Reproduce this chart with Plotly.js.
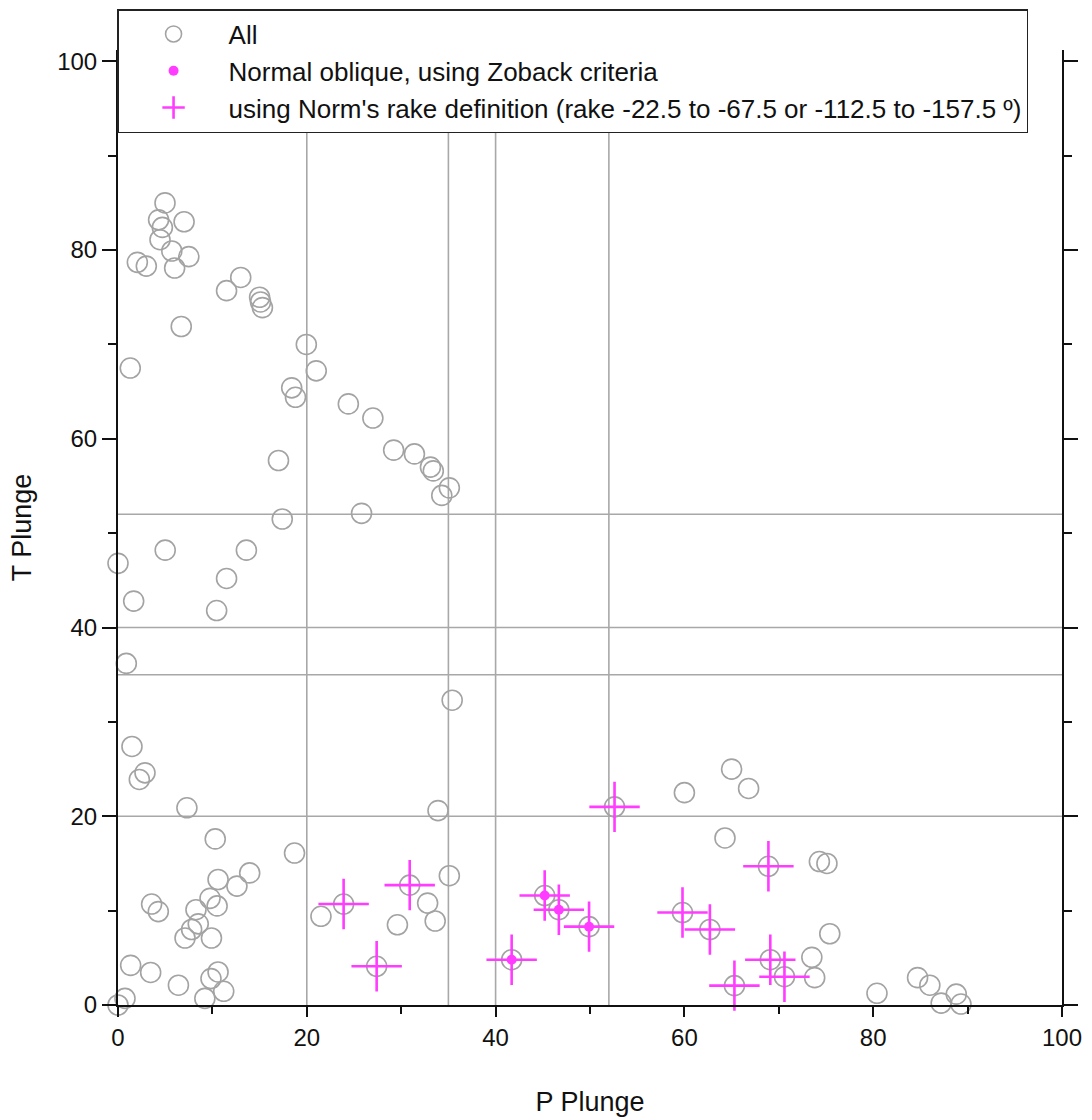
<!DOCTYPE html>
<html>
<head>
<meta charset="utf-8">
<script src="https://cdn.plot.ly/plotly-3.0.1.min.js"></script>
<style>html,body{margin:0;padding:0;background:#fff;}#chart{width:1092px;height:1120px;}</style>
</head>
<body>
<div id="chart"></div>
<script>
// All events: P plunge / T plunge
const allP = [4.98,4.3,7.0,4.7,4.45,5.7,7.5,2.05,3.0,6.0,13.0,11.5,15.0,15.1,15.3,6.7,19.95,1.3,21.0,18.4,18.8,24.4,27.0,17.0,29.2,31.4,33.1,33.4,35.1,34.3,
  17.4,25.8,5.0,13.6,0,11.5,1.66,10.45,0.88,35.4,1.48,2.86,2.26,7.3,33.9,10.3,18.7,
  13.95,10.6,35.1,12.6,30.9,3.56,4.27,9.75,10.5,23.9,32.8,8.26,21.5,8.5,7.8,7.1,9.9,29.6,33.6,27.4,1.34,3.46,10.6,9.85,6.4,11.2,9.2,0.74,0,
  52.6,60.0,65.0,66.8,64.3,68.9,74.3,75.1,45.2,46.7,49.9,41.7,59.8,62.7,75.4,69.1,73.5,70.6,73.8,65.3,80.4,84.7,86.0,87.2,88.8,89.3];
const allT = [85.0,83.2,83.0,82.4,81.1,79.9,79.3,78.7,78.3,78.1,77.1,75.7,75.0,74.5,73.9,71.9,70.0,67.5,67.2,65.4,64.4,63.7,62.2,57.7,58.8,58.4,57.0,56.6,54.8,54.0,
  51.5,52.1,48.2,48.2,46.8,45.2,42.8,41.8,36.2,32.3,27.4,24.6,23.9,20.9,20.6,17.6,16.1,
  14.0,13.3,13.7,12.6,12.7,10.7,9.9,11.3,10.5,10.7,10.8,10.1,9.4,8.6,8.0,7.1,7.1,8.5,8.9,4.1,4.2,3.45,3.5,2.8,2.1,1.45,0.7,0.7,0,
  21.0,22.5,25.0,22.95,17.7,14.7,15.2,15.0,11.6,10.1,8.3,4.8,9.8,8.0,7.55,4.8,5.05,3.0,2.9,2.05,1.24,2.9,2.1,0.2,1.15,0.1];

// Normal oblique, Zoback criteria
const zobackP = [41.7,45.2,46.7,49.9];
const zobackT = [4.8,11.6,10.1,8.3];

// Norm's rake definition
const normP = [23.9,27.4,30.9,41.7,45.2,46.7,49.9,52.6,59.8,62.7,65.3,68.9,69.1,70.6];
const normT = [10.7,4.1,12.7,4.8,11.6,10.1,8.3,21.0,9.8,8.0,2.05,14.7,4.8,3.0];

// Reference lines
const refP = [20,35,40,52];
const refT = [20,35,40,52];

const legendNames = ["All","Normal oblique, using Zoback criteria","using Norm's rake definition (rake -22.5 to -67.5 or -112.5 to -157.5 º)"];

const FONT = "Liberation Sans, Arial, sans-serif";
const magenta = "#ff3cff";

const traces = [
  {x: allP, y: allT, type: "scatter", mode: "markers", name: legendNames[0], cliponaxis: false,
   marker: {symbol: "circle-open", size: 20, color: "#a3a3a3", line: {width: 1.6, color: "#a3a3a3"}}},
  {x: zobackP, y: zobackT, type: "scatter", mode: "markers", name: legendNames[1], cliponaxis: false,
   marker: {symbol: "circle", size: 10, color: magenta}},
  {x: normP, y: normT, type: "scatter", mode: "markers", name: legendNames[2], cliponaxis: false,
   marker: {symbol: "cross-thin-open", size: 36, color: magenta, line: {width: 2.6, color: magenta}}}
];

const shapes = [];
refP.forEach(v => shapes.push({type: "line", layer: "below", xref: "x", yref: "y", x0: v, x1: v, y0: 0, y1: 101.2, line: {color: "#a8a8a8", width: 1.6}}));
refT.forEach(v => shapes.push({type: "line", layer: "below", xref: "x", yref: "y", x0: 0, x1: 100, y0: v, y1: v, line: {color: "#a8a8a8", width: 1.6}}));

const layout = {
  width: 1092, height: 1120,
  margin: {l: 118, r: 30, t: 50, b: 115, autoexpand: false},
  paper_bgcolor: "#fff", plot_bgcolor: "#fff",
  font: {family: FONT, size: 26, color: "#111"},
  showlegend: true,
  legend: {x: -0.001, y: 1.0429, xanchor: "left", yanchor: "top", bgcolor: "#fff",
    bordercolor: "#222", borderwidth: 1.5, itemwidth: 100, font: {family: FONT, size: 26, color: "#111"}},
  xaxis: {range: [0, 100], dtick: 20, tick0: 0, showgrid: false, zeroline: false,
    showline: true, linecolor: "#111", linewidth: 2,
    ticks: "outside", ticklen: 10, tickwidth: 2, tickcolor: "#111",
    minor: {dtick: 10, tick0: 0, ticks: "outside", ticklen: 7, tickwidth: 2, tickcolor: "#111", showgrid: false},
    tickfont: {family: FONT, size: 24, color: "#111"},
    title: {text: "P Plunge", font: {family: FONT, size: 27, color: "#111"}, standoff: 42}},
  yaxis: {range: [0, 101.2], dtick: 20, tick0: 0, showgrid: false, zeroline: false,
    showline: true, linecolor: "#111", linewidth: 2, mirror: "allticks",
    ticks: "outside", ticklen: 14, tickwidth: 2, tickcolor: "#111",
    minor: {dtick: 10, tick0: 0, ticks: "outside", ticklen: 8, tickwidth: 2, tickcolor: "#111", showgrid: false},
    tickfont: {family: FONT, size: 24, color: "#111"},
    title: {text: "T Plunge", font: {family: FONT, size: 27, color: "#111"}, standoff: 18}},
  shapes: shapes
};

Plotly.newPlot("chart", traces, layout, {displayModeBar: false, staticPlot: true});
</script>
</body>
</html>
